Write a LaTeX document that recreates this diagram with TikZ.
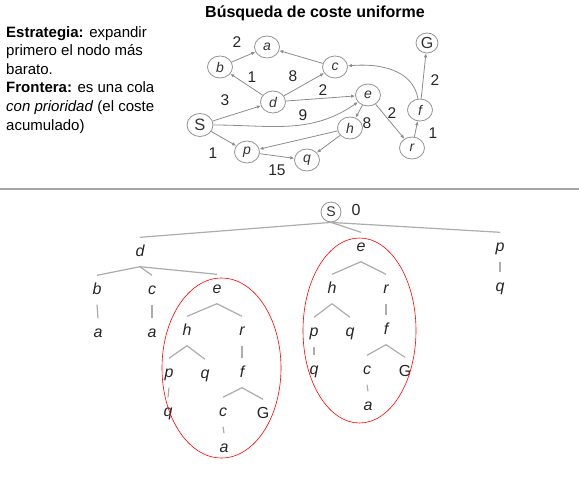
\documentclass[tikz,border=0pt]{standalone}
\usepackage{fontspec}
\setmainfont{Liberation Sans}
\usetikzlibrary{shapes.geometric,arrows.meta}
\begin{document}
\begin{tikzpicture}[x=1pt,y=1pt,
  gnode/.style={ellipse, draw=gray!85, line width=0.8pt, fill=white, minimum width=25pt, minimum height=22pt, inner sep=0pt, font=\fontsize{14}{14}\selectfont\itshape, text=black!80},
  garr/.style={draw=gray!90, line width=0.8pt, -{Latex[length=4pt,width=3.5pt]}},
  wlab/.style={font=\fontsize{15.5}{15.5}\selectfont, text=black!85, inner sep=0pt},
  tnode/.style={font=\fontsize{16}{16}\selectfont\itshape, text=black!85, inner sep=0pt, text height=8pt, text depth=0pt, minimum height=29pt},
  tline/.style={draw=gray!65, line width=1.2pt},
  ring/.style={ellipse, draw=red, line width=0.6pt, inner sep=0pt},
]
\useasboundingbox (0,0) rectangle (579,-480);
% left text
\node[anchor=north west, align=left, inner sep=0pt, font=\fontsize{15}{18.6}\selectfont, text=black] (txt) at (6,-26)
 {\textbf{Estrategia:} expandir\\primero el nodo más\\barato.\\\textbf{Frontera:} es una cola\\\textit{con prioridad} (el coste\\acumulado)};
% title
\node[font=\fontsize{16}{16}\selectfont\bfseries, inner sep=0pt] (title) at (315,-13) {Búsqueda de coste uniforme};
% graph
\node[gnode] (a) at (267,-47) {a};
\node[gnode] (b) at (220,-67) {b};
\node[gnode] (c) at (335,-67) {c};
\node[gnode, minimum width=22pt, minimum height=20pt, font=\fontsize{16}{16}\selectfont] (G) at (427,-43) {G};
\node[gnode] (d) at (273,-102) {d};
\node[gnode] (e) at (368,-95) {e};
\node[gnode] (f) at (420,-110) {f};
\node[gnode, minimum width=26pt, minimum height=23pt, font=\fontsize{16.5}{16.5}\selectfont] (S) at (200,-125) {S};
\node[gnode] (h) at (350,-128) {h};
\node[gnode] (r) at (412,-148) {r};
\node[gnode] (p) at (247,-152) {p};
\node[gnode] (q) at (307,-160) {q};
\draw[garr] (b) -- (a);
\draw[garr] (c) -- (a);
\draw[garr] (d) -- (b);
\draw[garr] (d) -- (c);
\draw[garr] (S) -- (d);
\draw[garr] (d) -- (e);
\draw[garr] (S) to[out=0,in=215] (e);
\draw[garr] (e) -- (h);
\draw[garr] (e) -- (r);
\draw[garr] (r) -- (f);
\draw[garr] (f) -- (G);
\draw[garr] (f) to[out=100,in=5] (c);
\draw[garr] (S) -- (p);
\draw[garr] (h) -- (p);
\draw[garr] (h) -- (q);
\draw[garr] (p) -- (q);
\node[wlab] (w1) at (237,-42) {2};
\node[wlab] (w2) at (252,-77) {1};
\node[wlab] (w3) at (293,-76) {8};
\node[wlab] (w4) at (225,-100) {3};
\node[wlab] (w5) at (323,-90) {2};
\node[wlab] (w6) at (303,-115) {9};
\node[wlab] (w7) at (367,-123) {8};
\node[wlab] (w8) at (392,-113) {2};
\node[wlab] (w9) at (433,-133) {1};
\node[wlab] (w10) at (435,-80) {2};
\node[wlab] (w11) at (213,-153) {1};
\node[wlab] (w12) at (277,-170) {15};
% separator
\draw[gray!70, line width=1.5pt] (0,-189) -- (579,-189);
% tree
\node[circle, draw=gray!85, line width=0.8pt, inner sep=0pt, minimum size=20pt, font=\fontsize{14}{14}\selectfont, text=black!80] (tS) at (331,-212) {S};
\node[wlab, font=\fontsize{16}{16}\selectfont] (t0) at (356,-210) {0};
\node[tnode] (td) at (140,-252) {d};
\node[tnode] (te) at (361,-247) {e};
\node[tnode] (tp) at (500,-247) {p};
\node[tnode] (tpq) at (500,-287) {q};
\node[tnode] (tb) at (97,-290) {b};
\node[tnode] (tba) at (98,-333) {a};
\node[tnode] (tc) at (152,-290) {c};
\node[tnode] (tca) at (152,-333) {a};
\node[tnode] (te1) at (217,-289) {e};
\node[tnode] (th1) at (187,-331) {h};
\node[tnode] (tr1) at (242,-331) {r};
\node[tnode] (tp1) at (169,-373) {p};
\node[tnode] (tq1) at (205,-374) {q};
\node[tnode] (tf1) at (242,-373) {f};
\node[tnode] (tpq1) at (168,-412) {q};
\node[tnode] (tc1) at (223,-412) {c};
\node[tnode, font=\fontsize{16}{16}\selectfont] (tG1) at (263,-414) {G};
\node[tnode] (tca1) at (224,-448) {a};
\node[tnode] (th2) at (332,-289) {h};
\node[tnode] (tr2) at (386,-289) {r};
\node[tnode] (tp2) at (314,-332) {p};
\node[tnode] (tq2) at (350,-332) {q};
\node[tnode] (tf2) at (386,-330) {f};
\node[tnode] (tpq2) at (314,-370) {q};
\node[tnode] (tc2) at (367,-370) {c};
\node[tnode, font=\fontsize{16}{16}\selectfont] (tG2) at (405,-372) {G};
\node[tnode] (tca2) at (368,-406) {a};
\draw[tline] (tS.south) -- (td.north);
\draw[tline] (tS.south) -- (te.north);
\draw[tline] (tS.south) -- (tp.north);
\draw[tline] (tp.south) -- (tpq.north);
\draw[tline] (td.south) -- (tb.north);
\draw[tline] (td.south) -- (tc.north);
\draw[tline] (td.south) -- (te1.north);
\draw[tline] (tb.south) -- (tba.north);
\draw[tline] (tc.south) -- (tca.north);
\draw[tline] (te1.south) -- (th1.north);
\draw[tline] (te1.south) -- (tr1.north);
\draw[tline] (th1.south) -- (tp1.north);
\draw[tline] (th1.south) -- (tq1.north);
\draw[tline] (tr1.south) -- (tf1.north);
\draw[tline] (tp1.south) -- (tpq1.north);
\draw[tline] (tf1.south) -- (tc1.north);
\draw[tline] (tf1.south) -- (tG1.north);
\draw[tline] (tc1.south) -- (tca1.north);
\draw[tline] (te.south) -- (th2.north);
\draw[tline] (te.south) -- (tr2.north);
\draw[tline] (th2.south) -- (tp2.north);
\draw[tline] (th2.south) -- (tq2.north);
\draw[tline] (tr2.south) -- (tf2.north);
\draw[tline] (tp2.south) -- (tpq2.north);
\draw[tline] (tf2.south) -- (tc2.north);
\draw[tline] (tf2.south) -- (tG2.north);
\draw[tline] (tc2.south) -- (tca2.north);
\node[ring, minimum width=119pt, minimum height=180pt] (ring1) at (221.5,-368) {};
\node[ring, minimum width=113pt, minimum height=185pt] (ring2) at (359.5,-330.5) {};
\end{tikzpicture}
\end{document}
